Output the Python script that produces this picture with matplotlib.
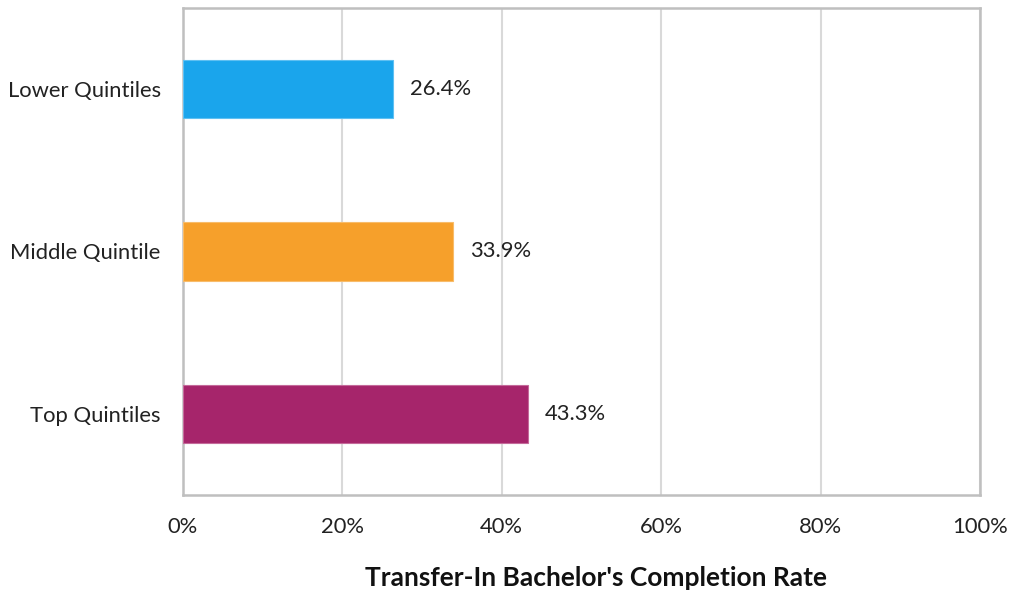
import matplotlib
matplotlib.use("Agg")
import matplotlib.pyplot as plt
from matplotlib.ticker import PercentFormatter

categories = ["Lower Quintiles", "Middle Quintile", "Top Quintiles"]
values = [26.4, 33.9, 43.3]
colors = ["#1AA5EC", "#F6A02B", "#A6256B"]
xticks = [0, 20, 40, 60, 80, 100]
xlabel = "Transfer-In Bachelor's Completion Rate"

plt.rcParams['font.family'] = ['Lato', 'DejaVu Sans']
FS = 15.8

fig = plt.figure(figsize=(10.11, 5.96), dpi=100)
ax = fig.add_axes([0.181, 0.1695, 0.7883, 0.8171])

ypos = list(range(len(categories)))
ax.barh(ypos, values, height=0.36, color=colors, edgecolor=["#5FC0F2", "#F8BC6A", "#C46A9A"], linewidth=0.8, zorder=3)
for y, v in zip(ypos, values):
    ax.text(v + 2.1, y, f"{v:.1f}%", va="center", ha="left", fontsize=FS, color="#222222")

ax.set_ylim(len(categories) - 0.5, -0.5)
ax.set_xlim(0, 100)
ax.set_yticks(ypos)
ax.set_yticklabels(categories, fontsize=FS, color="#222222")
ax.set_xticks(xticks)
ax.xaxis.set_major_formatter(PercentFormatter(decimals=0))
ax.tick_params(axis='x', labelsize=FS, colors="#222222", length=0, pad=16)
ax.tick_params(axis='y', length=0, pad=16)
ax.grid(axis='x', color="#D9D9D9", linewidth=1.5, zorder=0)
for s in ax.spines.values():
    s.set_color("#BFBFBF")
    s.set_linewidth(1.8)

fig.text(0.59, 0.03, xlabel, ha="center", va="center", fontsize=19, fontweight="bold", color="#111111")

fig.savefig("out.png", dpi=100)
